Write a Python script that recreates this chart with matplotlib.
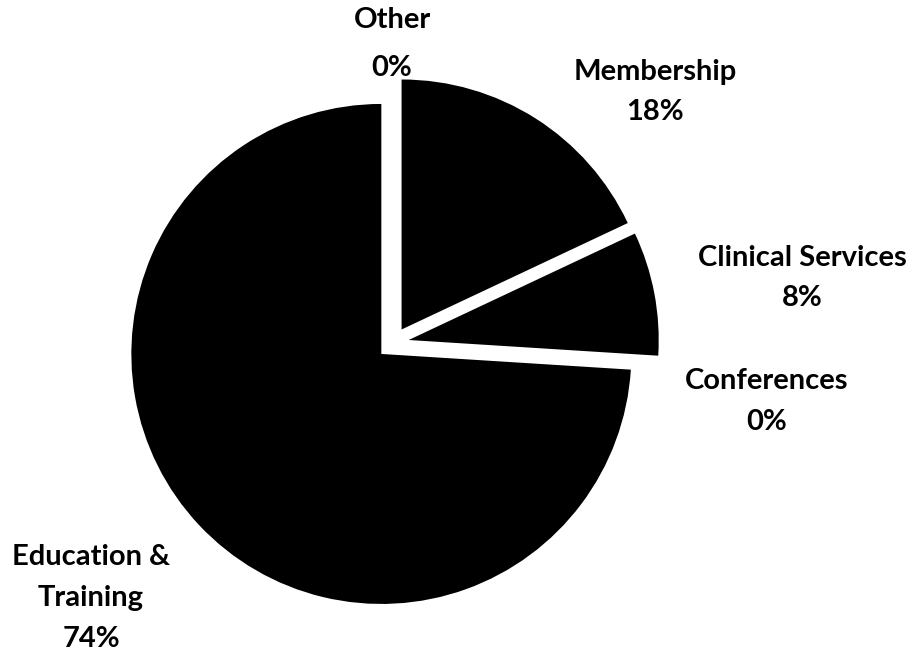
#!/usr/bin/env python3
'''
Revenue share pie, black wedges, exploded, Excel style labels
'''

import matplotlib.pyplot as plt

categories = ["Membership", "Clinical Services", "Conferences",
              "Education &\nTraining", "Other"]
shares = [18, 8, 0, 74, 0]

# label anchor points in pixels (x, y of first line), from top-left
label_px = [(655, 72), (802, 258), (767, 381), (91, 557), (392, 20)]
line_px = [40, 40, 41, 41, 48]

W, H = 913, 654
cx, cy, R = 393, 343, 250


def to_data(px, py):
    return (px - cx) / R, (cy - py) / R


fig = plt.figure(figsize=(W / 100, H / 100), dpi=100)
ax = fig.add_axes([0, 0, 1, 1])

ax.pie(shares, startangle=90, counterclock=False,
       explode=[0.064] * len(shares), colors=["black"] * len(shares),
       wedgeprops=dict(linewidth=0), radius=1.0, frame=False)

ax.set_aspect("auto")
ax.set_xlim(-cx / R, (W - cx) / R)
ax.set_ylim(-(H - cy) / R, cy / R)
ax.axis("off")

for name, val, (px, py), step in zip(categories, shares, label_px, line_px):
    lines = name.split("\n") + ["%d%%" % val]
    for i, txt in enumerate(lines):
        x, y = to_data(px, py + i * step)
        ax.text(x, y, txt, ha="center", va="center", fontsize=21,
                fontweight="bold", family=["Lato", "DejaVu Sans"],
                color="black")

plt.savefig("out.png", dpi=100)
